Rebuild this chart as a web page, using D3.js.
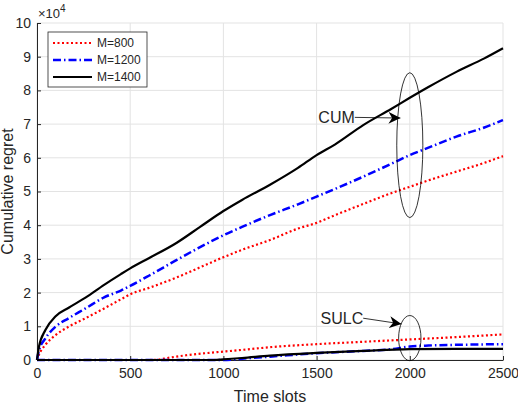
<!DOCTYPE html>
<html>
<head>
<meta charset="utf-8">
<script src="https://cdn.jsdelivr.net/npm/d3@7"></script>
<style>
body { margin: 0; background: #fff; }
text { font-family: "Liberation Sans", Arial, sans-serif; fill: #262626; }
</style>
</head>
<body>
<svg id="chart" width="518" height="410"></svg>
<script>
// values in units of 1e4
var slots = [0, 10, 45, 100, 170, 260, 360, 450, 500, 600, 750, 875, 1000, 1100, 1250, 1400, 1500, 1600, 1750, 1900, 2000, 2100, 2250, 2400, 2500];
var cum800 = [0, 0.15, 0.45, 0.74, 0.99, 1.24, 1.53, 1.8, 1.95, 2.14, 2.45, 2.75, 3.05, 3.27, 3.56, 3.9, 4.07, 4.3, 4.63, 4.95, 5.14, 5.33, 5.59, 5.85, 6.05];
var cum1200 = [0, 0.27, 0.64, 0.99, 1.24, 1.53, 1.86, 2.06, 2.2, 2.5, 2.97, 3.35, 3.7, 3.95, 4.3, 4.62, 4.85, 5.08, 5.44, 5.82, 6.08, 6.3, 6.63, 6.9, 7.12];
var cum1400 = [0, 0.38, 0.89, 1.3, 1.55, 1.85, 2.23, 2.55, 2.72, 3.02, 3.48, 3.95, 4.42, 4.75, 5.2, 5.7, 6.08, 6.4, 6.97, 7.45, 7.78, 8.1, 8.55, 8.95, 9.25];

var sulcSlots800 = [0, 600, 650, 700, 800, 900, 1000, 1100, 1250, 1500, 1750, 2000, 2250, 2500];
var sulc800 = [0, 0, 0.01, 0.06, 0.14, 0.2, 0.25, 0.3, 0.38, 0.47, 0.54, 0.61, 0.68, 0.76];
var sulcSlots1200 = [0, 1000, 1100, 1250, 1500, 1750, 1900, 2000, 2100, 2250, 2500];
var sulc1200 = [0, 0, 0.04, 0.1, 0.2, 0.27, 0.32, 0.4, 0.43, 0.45, 0.47];
var sulcSlots1400 = [0, 950, 1000, 1100, 1250, 1500, 1750, 2000, 2250, 2500];
var sulc1400 = [0, 0, 0.02, 0.06, 0.13, 0.21, 0.27, 0.32, 0.33, 0.33];

var xTicks = [0, 500, 1000, 1500, 2000, 2500];
var yTicks = [0, 1, 2, 3, 4, 5, 6, 7, 8, 9, 10];
var seriesNames = ["M=800", "M=1200", "M=1400"];

var svg = d3.select("#chart"),
    MARGINS = { top: 23, right: 15, bottom: 50, left: 37 },
    WIDTH = 518, HEIGHT = 410;

var x = d3.scaleLinear().domain([0, 2500]).range([MARGINS.left, WIDTH - MARGINS.right]);
var y = d3.scaleLinear().domain([0, 10]).range([HEIGHT - MARGINS.bottom, MARGINS.top]);

// grid
svg.append("g").selectAll("line").data(xTicks).enter().append("line")
    .attr("x1", function (d) { return x(d); }).attr("x2", function (d) { return x(d); })
    .attr("y1", y(0)).attr("y2", y(10))
    .attr("stroke", "#e3e3e3").attr("stroke-width", 1);
svg.append("g").selectAll("line").data(yTicks).enter().append("line")
    .attr("x1", x(0)).attr("x2", x(2500))
    .attr("y1", function (d) { return y(d); }).attr("y2", function (d) { return y(d); })
    .attr("stroke", "#e3e3e3").attr("stroke-width", 1);

var xAxis = d3.axisBottom(x).tickValues(xTicks).tickFormat(d3.format("d")).tickSizeInner(-4).tickSizeOuter(0).tickPadding(8);
var yAxis = d3.axisLeft(y).tickValues(yTicks).tickFormat(d3.format("d")).tickSizeInner(-4).tickSizeOuter(0).tickPadding(6);

var gx = svg.append("g").attr("transform", "translate(0," + y(0) + ")").call(xAxis);
var gy = svg.append("g").attr("transform", "translate(" + x(0) + ",0)").call(yAxis);
[gx, gy].forEach(function (g) {
    g.select(".domain").attr("stroke", "#262626").attr("stroke-width", 1);
    g.selectAll(".tick line").attr("stroke", "#262626");
    g.selectAll(".tick text").style("font-size", "14px").attr("fill", "#262626")
        .style("font-family", "Liberation Sans, Arial, sans-serif");
});

var styles = [
    { color: "#ff0000", dash: "2,2.5", width: 2.2 },
    { color: "#0000ff", dash: "8,3,1.5,3", width: 2.5 },
    { color: "#000000", dash: null, width: 2.2 }
];

var line = d3.line()
    .curve(d3.curveMonotoneX)
    .x(function (d) { return x(d[0]); })
    .y(function (d) { return y(d[1]); });

function drawSeries(xs, ys, s) {
    var pts = xs.map(function (v, i) { return [v, ys[i]]; });
    svg.append("path")
        .attr("d", line(pts))
        .attr("fill", "none")
        .attr("stroke", s.color)
        .attr("stroke-width", s.width)
        .attr("stroke-dasharray", s.dash)
        .attr("stroke-linejoin", "round");
}

drawSeries(slots, cum800, styles[0]);
drawSeries(slots, cum1200, styles[1]);
drawSeries(slots, cum1400, styles[2]);
drawSeries(sulcSlots800, sulc800, styles[0]);
drawSeries(sulcSlots1200, sulc1200, styles[1]);
drawSeries(sulcSlots1400, sulc1400, styles[2]);

// annotations
svg.append("defs").append("marker")
    .attr("id", "arr").attr("viewBox", "0 0 10 10")
    .attr("refX", 10).attr("refY", 5)
    .attr("markerWidth", 12).attr("markerHeight", 12)
    .attr("markerUnits", "userSpaceOnUse")
    .attr("orient", "auto")
    .append("path").attr("d", "M0,0 L10,5 L0,10 L3,5 Z").attr("fill", "#000");

svg.append("ellipse")
    .attr("cx", x(2000)).attr("cy", y(6.375))
    .attr("rx", x(70) - x(0)).attr("ry", y(0) - y(2.15))
    .attr("fill", "none").attr("stroke", "#000").attr("stroke-width", 0.8);
svg.append("ellipse")
    .attr("cx", x(2000)).attr("cy", y(0.65))
    .attr("rx", x(60) - x(0)).attr("ry", y(0) - y(0.67))
    .attr("fill", "none").attr("stroke", "#000").attr("stroke-width", 0.8);

svg.append("line")
    .attr("x1", x(1705)).attr("y1", y(7.2))
    .attr("x2", x(1950)).attr("y2", y(7.18))
    .attr("stroke", "#000").attr("stroke-width", 0.8).attr("marker-end", "url(#arr)");
svg.append("text").attr("x", x(1705)).attr("y", y(7.2) + 6)
    .attr("text-anchor", "end").style("font-size", "16px").attr("fill", "#000").text("CUM");

svg.append("line")
    .attr("x1", x(1750)).attr("y1", y(1.24))
    .attr("x2", x(1955)).attr("y2", y(1.07))
    .attr("stroke", "#000").attr("stroke-width", 0.8).attr("marker-end", "url(#arr)");
svg.append("text").attr("x", x(1750)).attr("y", y(1.24) + 6)
    .attr("text-anchor", "end").style("font-size", "16px").attr("fill", "#000").text("SULC");

// exponent label
var ex = svg.append("text").attr("x", x(0) + 1).attr("y", 18).style("font-size", "13px");
ex.append("tspan").text("\u00d710");
ex.append("tspan").attr("dy", -6).style("font-size", "10px").text("4");

// axis labels
svg.append("text").attr("x", (x(0) + x(2500)) / 2).attr("y", 402)
    .attr("text-anchor", "middle").style("font-size", "16px").text("Time slots");
svg.append("text")
    .attr("transform", "translate(13," + (y(0) + y(10)) / 2 + ") rotate(-90)")
    .attr("text-anchor", "middle").style("font-size", "16px").text("Cumulative regret");

// legend
var lg = svg.append("g").attr("transform", "translate(48,32)");
lg.append("rect").attr("width", 99).attr("height", 55)
    .attr("fill", "#fff").attr("stroke", "#262626").attr("stroke-width", 0.8);
seriesNames.forEach(function (name, i) {
    var yy = 11 + i * 17;
    lg.append("line").attr("x1", 5).attr("x2", 44).attr("y1", yy).attr("y2", yy)
        .attr("stroke", styles[i].color).attr("stroke-width", styles[i].width)
        .attr("stroke-dasharray", styles[i].dash);
    lg.append("text").attr("x", 49).attr("y", yy + 4).style("font-size", "12px")
        .attr("fill", "#000").text(name);
});
</script>
</body>
</html>
